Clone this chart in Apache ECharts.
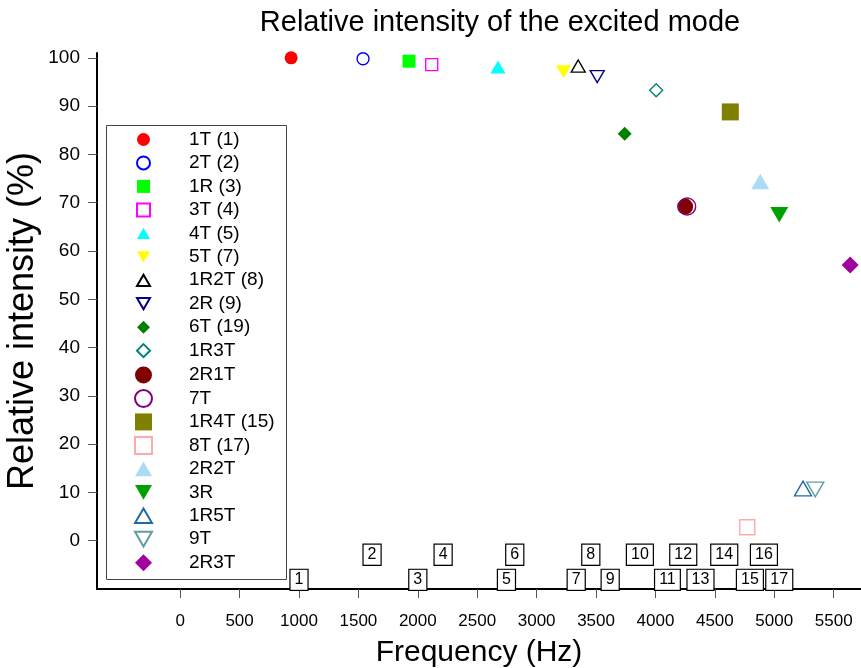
<!DOCTYPE html>
<html>
<head>
<meta charset="utf-8">
<script src="https://cdn.jsdelivr.net/npm/echarts@6/dist/echarts.min.js"></script>
<style>
html, body { margin: 0; padding: 0; background: #fff; }
#chart { width: 861px; height: 668px; }
</style>
</head>
<body>
<div id="chart"></div>
<script>
// modes and their measured relative intensity
var modeNames = ['1T (1)', '2T (2)', '1R (3)', '3T (4)', '4T (5)', '5T (7)', '1R2T (8)', '2R (9)', '6T (19)', '1R3T',
	'2R1T', '7T', '1R4T (15)', '8T (17)', '2R2T', '3R', '1R5T', '9T', '2R3T'];
var modeFreqs = [934, 1539, 1926, 2117, 2675, 3227, 3350, 3510, 3741, 4006,
	4250, 4267, 4630, 4773, 4882, 5042, 5242, 5345, 5639];
var modeIntensity = [100, 99.8, 99.3, 98.6, 98.1, 97.1, 98.3, 96.1, 84.3, 93.3,
	69.2, 69.2, 88.8, 2.8, 74.4, 67.5, 10.8, 10.6, 57.1];

// numbered peaks under the curve
var peakIds = ['1', '2', '3', '4', '5', '6', '7', '8', '9', '10', '11', '12', '13', '14', '15', '16', '17'];
var peakFreqs = [1000, 1615, 2000, 2213, 2746, 2816, 3333, 3456, 3619, 3869, 4101, 4234, 4379, 4579, 4795, 4913, 5042];
var peakLevels = [-8.1, -2.9, -8.1, -2.9, -8.1, -2.9, -8.1, -2.9, -8.1, -2.9, -8.1, -2.9, -8.1, -2.9, -8.1, -2.9, -8.1];

var xTicks = [0, 500, 1000, 1500, 2000, 2500, 3000, 3500, 4000, 4500, 5000, 5500];
var yTicks = [0, 10, 20, 30, 40, 50, 60, 70, 80, 90, 100];

// marker: shape, colour, filled, size
var markers = [
	['circle', '#ff0000', true, 13],
	['circle', '#0000ff', false, 12],
	['rect', '#00ff00', true, 13],
	['rect', '#ff00ff', false, 12],
	['up', '#00ffff', true, 15],
	['down', '#ffff00', true, 15],
	['up', '#000000', false, 14],
	['down', '#000080', false, 14],
	['diamond', '#008000', true, 14],
	['diamond', '#008080', false, 13],
	['circle', '#800000', true, 16],
	['circle', '#800080', false, 17],
	['rect', '#808000', true, 17],
	['rect', '#ffaaaa', false, 15],
	['up', '#aadcf8', true, 18],
	['down', '#00a000', true, 18],
	['up', '#1f6aa8', false, 17],
	['down', '#5f9ea0', false, 17],
	['diamond', '#a000a0', true, 17]
];

var shapes = {
	circle: 'circle',
	rect: 'rect',
	diamond: 'diamond',
	up: 'path://M5,0L10,8.66L0,8.66Z',
	down: 'path://M0,0L10,0L5,8.66Z'
};

var fontName = '"Liberation Sans", Arial, sans-serif';
var chart = echarts.init(document.getElementById('chart'));

var series = modeNames.map(function (name, i) {
	var m = markers[i];
	var style = m[2]
		? { color: m[1], opacity: 1 }
		: { color: 'rgba(0,0,0,0)', borderColor: m[1], borderWidth: 1.4, opacity: 1 };
	return {
		name: name,
		type: 'scatter',
		symbol: shapes[m[0]],
		symbolKeepAspect: true,
		symbolSize: m[3],
		itemStyle: style,
		data: [[modeFreqs[i], modeIntensity[i]]],
		z: 3
	};
});

// boxed peak numbers
series.push({
	name: 'peaks',
	type: 'scatter',
	silent: true,
	symbolSize: 1,
	itemStyle: { color: 'rgba(0,0,0,0)', opacity: 1 },
	data: peakIds.map(function (id, i) { return [peakFreqs[i], peakLevels[i], id]; }),
	label: {
		show: true,
		position: 'inside',
		formatter: function (p) { return p.value[2]; },
		color: '#000',
		fontFamily: fontName,
		fontSize: 16,
		lineHeight: 16,
		backgroundColor: '#fff',
		borderColor: '#000',
		borderWidth: 1.2,
		padding: [2, 4, 2, 4]
	},
	z: 4
});

function plainNumber(v) { return String(v); }

var option = {
	animation: false,
	backgroundColor: '#fff',
	title: {
		text: 'Relative intensity of the excited mode',
		left: 500,
		textAlign: 'center',
		top: 8,
		padding: 0,
		textStyle: { fontFamily: fontName, fontSize: 29, fontWeight: 'normal', color: '#000' }
	},
	legend: [{
		orient: 'vertical',
		left: 136,
		top: 130,
		data: modeNames.slice(0, 10),
		itemWidth: 13,
		itemHeight: 13,
		itemGap: 4.46,
		padding: 0,
		selectedMode: false,
		textStyle: { fontFamily: fontName, fontSize: 19, color: '#000', padding: [0, 0, 0, 34] }
	}, {
		orient: 'vertical',
		left: 134,
		top: 365.5,
		data: modeNames.slice(10),
		itemWidth: 17,
		itemHeight: 17,
		itemGap: 4.46,
		padding: 0,
		selectedMode: false,
		textStyle: { fontFamily: fontName, fontSize: 19, color: '#000', padding: [0, 0, 0, 32] }
	}],
	graphic: [{
		type: 'rect',
		shape: { x: 106.5, y: 125.5, width: 180, height: 454 },
		style: { fill: 'none', stroke: '#444', lineWidth: 1 },
		z: 1
	}],
	grid: { left: 97, right: 0, top: 53, bottom: 79, containLabel: false, outerBoundsMode: 'none' },
	xAxis: {
		type: 'value',
		min: -700,
		max: 5730,
		name: 'Frequency (Hz)',
		nameLocation: 'middle',
		nameGap: 49,
		nameMoveOverlap: false,
		nameTextStyle: { fontFamily: fontName, fontSize: 30, color: '#000' },
		splitLine: { show: false },
		axisLine: { show: true, onZero: false, lineStyle: { color: '#000', width: 2 } },
		axisTick: { show: true, length: 9, customValues: xTicks, lineStyle: { color: '#555', width: 1 } },
		axisLabel: { customValues: xTicks, formatter: plainNumber, margin: 24, fontFamily: fontName, fontSize: 17, color: '#000' }
	},
	yAxis: {
		type: 'value',
		min: -10,
		max: 101,
		name: 'Relative intensity (%)',
		nameLocation: 'middle',
		nameGap: 56,
		nameMoveOverlap: false,
		nameTextStyle: { fontFamily: fontName, fontSize: 36, color: '#000' },
		splitLine: { show: false },
		axisLine: { show: true, onZero: false, lineStyle: { color: '#000', width: 2 } },
		axisTick: { show: true, length: 9, customValues: yTicks, lineStyle: { color: '#555', width: 1 } },
		axisLabel: { customValues: yTicks, formatter: plainNumber, margin: 17, fontFamily: fontName, fontSize: 19, color: '#000' }
	},
	series: series
};

chart.setOption(option);
</script>
</body>
</html>
